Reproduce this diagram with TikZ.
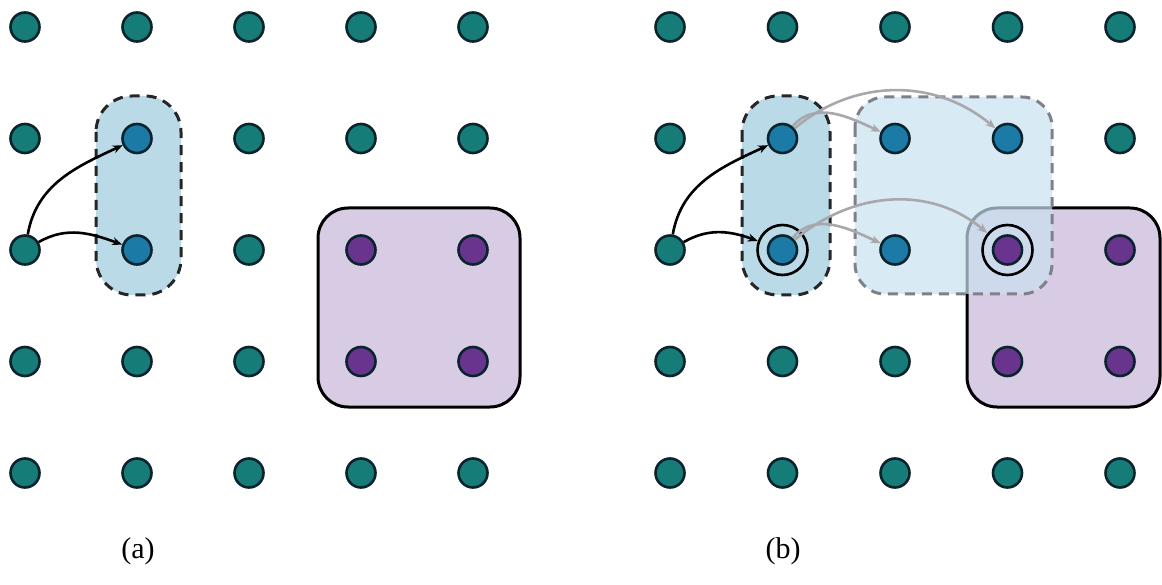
\documentclass[tikz,border=0pt]{standalone}
\usepackage{fontspec}
\setmainfont{Liberation Serif}
\usetikzlibrary{arrows.meta}
\definecolor{tealfill}{RGB}{22,124,120}
\definecolor{bluefill}{RGB}{28,122,166}
\definecolor{purplefill}{RGB}{104,52,142}
\definecolor{dotline}{RGB}{10,35,45}
\definecolor{boxblue}{RGB}{186,218,232}
\definecolor{boxlight}{RGB}{200,225,238}
\definecolor{boxpurple}{RGB}{216,204,228}
\definecolor{arrgray}{RGB}{168,168,172}
\definecolor{dashgray}{RGB}{128,128,138}
\tikzset{
  x=1pt,y=-1pt,
  dotbase/.style={circle,draw=dotline,line width=2.6pt,minimum size=29pt,inner sep=0pt},
  tealdot/.style={dotbase,fill=tealfill},
  bluedot/.style={dotbase,fill=bluefill},
  purpledot/.style={dotbase,fill=purplefill},
  ringmark/.style={circle,draw=black,line width=2.6pt,minimum size=50pt,inner sep=0pt},
  selbox/.style={draw=black!85,dash pattern=on 10pt off 7pt,line width=3pt,fill=boxblue,rounded corners=36pt},
  lightbox/.style={draw=dashgray,dash pattern=on 10pt off 7pt,line width=3pt,fill=boxlight,fill opacity=0.7,draw opacity=1,rounded corners=30pt},
  purplebox/.style={draw=black,line width=3pt,fill=boxpurple,rounded corners=30pt},
  blackarrow/.style={draw=black,line width=2.6pt,-{Stealth[length=10pt,width=8pt]}},
  grayarrow/.style={draw=arrgray,line width=2.6pt,-{Stealth[length=10pt,width=8pt]}},
  caption/.style={font=\fontsize{30}{34}\selectfont}
}
\begin{document}
\begin{tikzpicture}
\useasboundingbox (0,0) rectangle (1162,585);
% ---------- (a) ----------
\draw[purplebox] (318,208) rectangle (520,407);
\draw[selbox] (96,96) rectangle (181,295);
\foreach \c/\r in {1/1,2/1,3/1,4/1,5/1, 1/2,3/2,4/2,5/2, 1/3,3/3, 1/4,2/4,3/4, 1/5,2/5,3/5,4/5,5/5}
  \node[tealdot] (L-\c-\r) at ({25+112*(\c-1)},{27+111.5*(\r-1)}) {};
\foreach \c/\r in {2/2,2/3}
  \node[bluedot] (L-\c-\r) at ({25+112*(\c-1)},{27+111.5*(\r-1)}) {};
\foreach \c/\r in {4/3,5/3,4/4,5/4}
  \node[purpledot] (L-\c-\r) at ({25+112*(\c-1)},{27+111.5*(\r-1)}) {};
\draw[blackarrow] (L-1-3) to[out=80,in=205] (L-2-2);
\draw[blackarrow] (L-1-3) to[out=30,in=160] (L-2-3);
\node[caption] (capa) at (138,551) {(a)};
% ---------- (b) ----------
\draw[purplebox] (967,208) rectangle (1160,407);
\draw[lightbox] (855,97) rectangle (1052,294);
\draw[selbox] (742,96) rectangle (830,295);
\foreach \c/\r in {1/1,2/1,3/1,4/1,5/1, 1/2,5/2, 1/3, 1/4,2/4,3/4, 1/5,2/5,3/5,4/5,5/5}
  \node[tealdot] (R-\c-\r) at ({670+112.5*(\c-1)},{27+111.5*(\r-1)}) {};
\foreach \c/\r in {2/2,2/3,3/2,4/2,3/3}
  \node[bluedot] (R-\c-\r) at ({670+112.5*(\c-1)},{27+111.5*(\r-1)}) {};
\foreach \c/\r in {4/3,5/3,4/4,5/4}
  \node[purpledot] (R-\c-\r) at ({670+112.5*(\c-1)},{27+111.5*(\r-1)}) {};
\node[ringmark] (ring1) at (R-2-3) {};
\node[ringmark] (ring2) at (R-4-3) {};
\draw[blackarrow] (R-1-3) to[out=80,in=205] (R-2-2);
\draw[blackarrow] (R-1-3) to[out=30,in=160] (ring1);
\draw[grayarrow] (R-2-2) to[out=50,in=155] (R-3-2);
\draw[grayarrow] (R-2-2) to[out=40,in=140] (R-4-2);
\draw[grayarrow] (R-2-3) to[out=50,in=155] (R-3-3);
\draw[grayarrow] (R-2-3) to[out=40,in=140] (ring2);
\node[caption] (capb) at (783,551) {(b)};
\end{tikzpicture}
\end{document}
